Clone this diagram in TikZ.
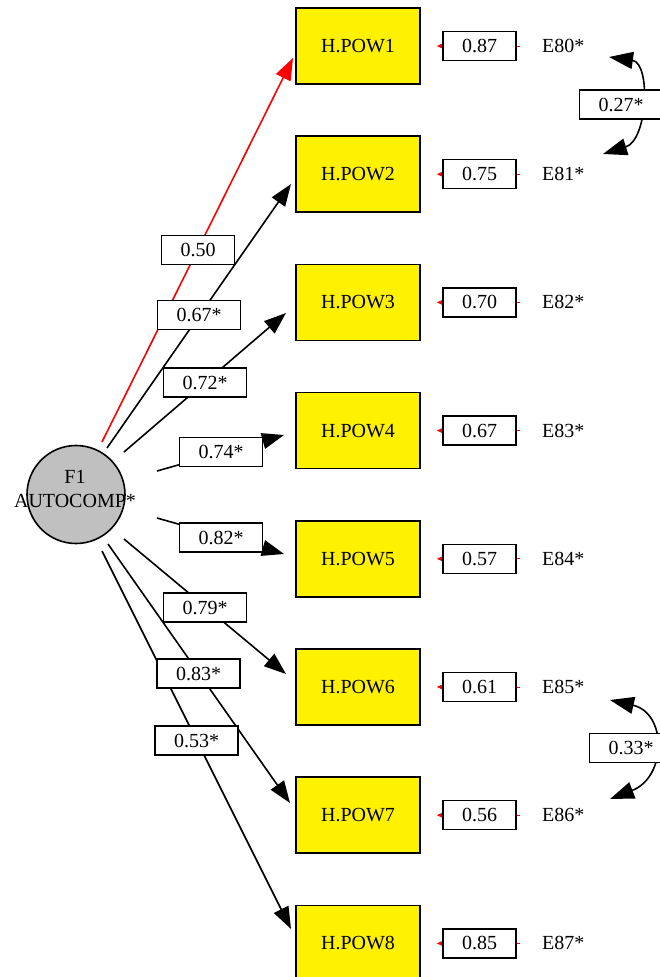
\documentclass[tikz,border=0pt]{standalone}
\usepackage{fontspec}
\setmainfont{Liberation Serif}
\usetikzlibrary{arrows.meta}
\begin{document}
\begin{tikzpicture}[x=1pt,y=-1pt,
  every node/.style={font=\fontsize{20}{24}\selectfont},
  hbox/.style={draw,line width=1.6pt,fill=yellow,minimum width=124pt,minimum height=76pt,inner sep=0pt},
  lat/.style={circle,draw,line width=1.6pt,fill={rgb,255:red,192;green,192;blue,192},minimum size=98pt,inner sep=0pt},
  lbl/.style={draw,line width=1.4pt,fill=white,minimum height=29pt,inner xsep=19pt,inner ysep=0pt},
  etxt/.style={anchor=west,inner sep=0pt},
  load/.style={line width=1.6pt,-{Triangle[length=22pt,width=16pt]}},
  errl/.style={red,line width=1pt,-{Triangle[length=7pt,width=6pt]},shorten <=22pt,shorten >=16pt},
  cov/.style={line width=1.6pt,{Triangle[length=24pt,width=17pt]}-{Triangle[length=24pt,width=17pt]}},
]
\useasboundingbox (0,0) rectangle (660,977);
\clip (0,0) rectangle (660,977);

% latent factor
\node[lat] (F1) at (76,494.5) {};
\node[align=center,inner sep=0pt] (F1t) at (75,488.5) {F1\\AUTOCOMP*};

% observed variables
\node[hbox] (h1) at (358,46) {H.POW1};
\node[hbox] (h2) at (358,174.2) {H.POW2};
\node[hbox] (h3) at (358,302.4) {H.POW3};
\node[hbox] (h4) at (358,430.6) {H.POW4};
\node[hbox] (h5) at (358,558.8) {H.POW5};
\node[hbox] (h6) at (358,687) {H.POW6};
\node[hbox] (h7) at (358,815.2) {H.POW7};
\node[hbox] (h8) at (358,943.4) {H.POW8};

% error terms
\node[etxt] (E1) at (542,46) {E80*};
\node[etxt] (E2) at (542,174.2) {E81*};
\node[etxt] (E3) at (542,302.4) {E82*};
\node[etxt] (E4) at (542,430.6) {E83*};
\node[etxt] (E5) at (542,558.8) {E84*};
\node[etxt] (E6) at (542,687) {E85*};
\node[etxt] (E7) at (542,815.2) {E86*};
\node[etxt] (E8) at (542,943.4) {E87*};

% loading endpoints
\coordinate (s1) at (102,442); \coordinate (t1) at (293,58);
\coordinate (s2) at (107,448); \coordinate (t2) at (291,184);
\coordinate (s3) at (124,452); \coordinate (t3) at (286,313);
\coordinate (s4) at (157,471); \coordinate (t4) at (284,435);
\coordinate (s5) at (157,518); \coordinate (t5) at (284,554);
\coordinate (s6) at (124,539); \coordinate (t6) at (286,674);
\coordinate (s7) at (108,544); \coordinate (t7) at (290,803);
\coordinate (s8) at (102,551); \coordinate (t8) at (291,929);

\draw[load,red] (s1) -- (t1);
\draw[load] (s2) -- (t2);
\draw[load] (s3) -- (t3);
\draw[load] (s4) -- (t4);
\draw[load] (s5) -- (t5);
\draw[load] (s6) -- (t6);
\draw[load] (s7) -- (t7);
\draw[load] (s8) -- (t8);

% error paths
\draw[errl] (E1.west) -- (h1.east);
\draw[errl] (E2.west) -- (h2.east);
\draw[errl] (E3.west) -- (h3.east);
\draw[errl] (E4.west) -- (h4.east);
\draw[errl] (E5.west) -- (h5.east);
\draw[errl] (E6.west) -- (h6.east);
\draw[errl] (E7.west) -- (h7.east);
\draw[errl] (E8.west) -- (h8.east);

% covariances
\coordinate (c1a) at (609,57); \coordinate (c1b) at (603,154);
\coordinate (c2a) at (610,700); \coordinate (c2b) at (610,799);
\draw[cov] (c1a) .. controls (651,63) and (648,140) .. (c1b);
\draw[cov] (c2a) .. controls (667,713) and (667,777) .. (c2b);

% loading labels
\node[lbl] (l1) at (198,250) {0.50};
\node[lbl] (l2) at (199,315) {0.67*};
\node[lbl] (l3) at (205,382.5) {0.72*};
\node[lbl] (l4) at (221,452) {0.74*};
\node[lbl] (l5) at (221,537.5) {0.82*};
\node[lbl] (l6) at (205,607.5) {0.79*};
\node[lbl] (l7) at (198.5,673.5) {0.83*};
\node[lbl] (l8) at (196.5,740.5) {0.53*};

% error labels
\node[lbl] (r1) at (479.5,46) {0.87};
\node[lbl] (r2) at (479.5,174.2) {0.75};
\node[lbl] (r3) at (479.5,302.4) {0.70};
\node[lbl] (r4) at (479.5,430.6) {0.67};
\node[lbl] (r5) at (479.5,558.8) {0.57};
\node[lbl] (r6) at (479.5,687) {0.61};
\node[lbl] (r7) at (479.5,815.2) {0.56};
\node[lbl] (r8) at (479.5,943.4) {0.85};

% covariance labels
\node[lbl] (k1) at (621,104.5) {0.27*};
\node[lbl] (k2) at (631,748) {0.33*};
\end{tikzpicture}
\end{document}
